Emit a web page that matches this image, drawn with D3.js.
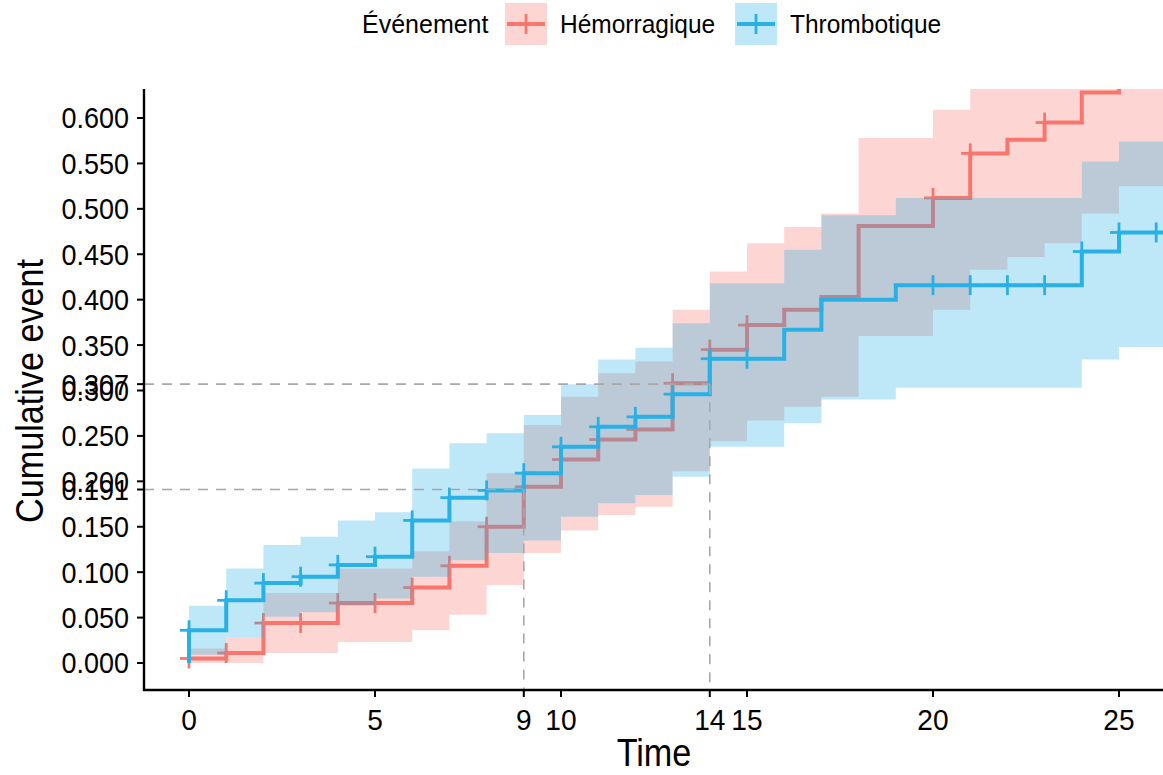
<!DOCTYPE html>
<html><head><meta charset="utf-8">
<script src="https://cdn.jsdelivr.net/npm/d3@7"></script>
<style>body{margin:0;background:#fff}text{font-family:"Liberation Sans",Arial,sans-serif;fill:#000}</style></head>
<body><svg id="c" width="1163" height="775"></svg>
<script>
// ---- data ----
const groups = ["Hémorragique", "Thrombotique"];
const colors = ["#F8766D", "#29B1E6"];

const hemTime = [0,1,2,3,4,5,6,7,8,9,10,11,12,13,14,15,16,17,18,20,21,22,23,24,25];
const hemEst  = [0.005,0.011,0.044,0.044,0.066,0.066,0.083,0.107,0.150,0.194,0.224,0.246,0.257,0.308,0.345,0.372,0.389,0.403,0.481,0.512,0.561,0.576,0.595,0.628,0.670];
const hemLow  = [0.000,0.000,0.011,0.011,0.023,0.023,0.036,0.053,0.086,0.121,0.146,0.163,0.172,0.211,0.244,0.267,0.282,0.293,0.360,0.389,0.433,0.447,0.462,0.495,0.525];
const hemUp   = [0.016,0.028,0.077,0.077,0.104,0.104,0.123,0.156,0.209,0.262,0.293,0.319,0.332,0.389,0.431,0.462,0.480,0.495,0.578,0.609,0.660,0.680,0.700,0.730,0.780];
const hemCensor = [0,1,2,3,4,5,6,7,8,9,10,11,12,13,14,15,20,21,23];
const hemEnd = 27;

const thrTime = [0,1,2,3,4,5,6,7,8,9,10,11,12,13,14,15,16,17,19,20,21,22,23,24,25,26];
const thrEst  = [0.036,0.069,0.088,0.095,0.108,0.117,0.157,0.182,0.190,0.209,0.238,0.260,0.271,0.296,0.335,0.335,0.367,0.400,0.416,0.416,0.416,0.416,0.416,0.453,0.474,0.474];
const thrLow  = [0.009,0.028,0.051,0.056,0.063,0.071,0.095,0.113,0.121,0.135,0.161,0.176,0.185,0.205,0.238,0.238,0.264,0.290,0.303,0.303,0.303,0.303,0.303,0.334,0.348,0.348];
const thrUp   = [0.063,0.104,0.130,0.139,0.157,0.166,0.214,0.242,0.253,0.273,0.307,0.334,0.347,0.374,0.418,0.418,0.455,0.493,0.512,0.512,0.512,0.512,0.512,0.552,0.574,0.574];
const thrCensor = [0,1,2,3,4,5,6,7,8,9,10,11,12,13,14,15,20,21,22,23,24,25,26];
const thrEnd = 27;

const xTicks = [0,5,9,10,14,15,20,25];
const yTicks = [0,0.05,0.1,0.15,0.191,0.2,0.25,0.3,0.307,0.35,0.4,0.45,0.5,0.55,0.6];
const medianLines = [{t:9, y:0.191}, {t:14, y:0.307}];

// ---- layout ----
const svg = d3.select("#c");
const W = 1163;
const x = d3.scaleLinear().domain([0,25]).range([189,1119]);
const y = d3.scaleLinear().domain([0,0.6]).range([663,118]);
const pLeft = 144, pBottom = 690, pTop = 89;

function txt(g, tx, ty, str, size, sx, anchor, rot){
  return g.append("text")
    .attr("transform", `translate(${tx},${ty})` + (rot ? ` rotate(${rot})` : "") + ` scale(${sx},1)`)
    .attr("text-anchor", anchor).attr("dy","0.36em").attr("font-size", size).text(str);
}

svg.append("defs").append("clipPath").attr("id","clip")
  .append("rect").attr("x",pLeft).attr("y",pTop).attr("width",W-pLeft).attr("height",pBottom-pTop);
const plot = svg.append("g").attr("clip-path","url(#clip)");

function rows(t, e, lo, up, end){
  const r = [{t:t[0], e:0, lo:lo[0], up:up[0]}];
  t.forEach((v,i)=>r.push({t:v, e:e[i], lo:lo[i], up:up[i]}));
  const l = r[r.length-1];
  r.push({t:end, e:l.e, lo:l.lo, up:l.up});
  return r;
}
const data = [
  {rows: rows(hemTime,hemEst,hemLow,hemUp,hemEnd), t:hemTime, e:hemEst, censor:hemCensor},
  {rows: rows(thrTime,thrEst,thrLow,thrUp,thrEnd), t:thrTime, e:thrEst, censor:thrCensor}
];

const area = d3.area().curve(d3.curveStepAfter).x(d=>x(d.t)).y0(d=>y(d.lo)).y1(d=>y(d.up));
const line = d3.line().curve(d3.curveStepAfter).x(d=>x(d.t)).y(d=>y(d.e));
function valAt(g, tt){ let v=0; g.t.forEach((s,i)=>{ if(s<=tt) v=g.e[i]; }); return v; }

data.forEach((g,i)=>{
  plot.append("path").datum(g.rows.slice(1)).attr("d",area).attr("fill",colors[i]).attr("fill-opacity",0.3);
  plot.append("path").datum(g.rows).attr("d",line).attr("fill","none").attr("stroke",colors[i]).attr("stroke-width",4);
  const cg = plot.append("g").attr("stroke",colors[i]).attr("stroke-width",2.8);
  g.censor.forEach(ct=>{
    const cx = x(ct), cy = y(valAt(g,ct));
    cg.append("line").attr("x1",cx-9).attr("x2",cx+9).attr("y1",cy).attr("y2",cy);
    cg.append("line").attr("x1",cx).attr("x2",cx).attr("y1",cy-10).attr("y2",cy+10);
  });
});

// median dashed lines
medianLines.forEach(m=>{
  svg.append("line").attr("x1",pLeft).attr("x2",x(m.t)).attr("y1",y(m.y)).attr("y2",y(m.y))
    .attr("stroke","#a8a8a8").attr("stroke-width",1.6).attr("stroke-dasharray","10,8");
  svg.append("line").attr("x1",x(m.t)).attr("x2",x(m.t)).attr("y1",y(m.y)).attr("y2",pBottom)
    .attr("stroke","#a8a8a8").attr("stroke-width",1.6).attr("stroke-dasharray","10,8");
});

// axes
const ax = svg.append("g");
ax.append("line").attr("x1",pLeft).attr("x2",pLeft).attr("y1",pTop).attr("y2",pBottom+1).attr("stroke","#000").attr("stroke-width",2.4);
ax.append("line").attr("x1",pLeft-1).attr("x2",W).attr("y1",pBottom).attr("y2",pBottom).attr("stroke","#000").attr("stroke-width",2.4);
yTicks.forEach(v=>{
  ax.append("line").attr("x1",pLeft-7).attr("x2",pLeft).attr("y1",y(v)).attr("y2",y(v)).attr("stroke","#000").attr("stroke-width",2);
  txt(ax, pLeft-15, y(v), d3.format(".3f")(v), 29, 0.93, "end");
});
xTicks.forEach(v=>{
  ax.append("line").attr("x1",x(v)).attr("x2",x(v)).attr("y1",pBottom).attr("y2",pBottom+7).attr("stroke","#000").attr("stroke-width",2);
  txt(ax, x(v), pBottom+30, v, 29, 0.97, "middle");
});
txt(svg, 654, 752, "Time", 38, 0.9, "middle");
txt(svg, 29, 391, "Cumulative event", 38, 0.9, "middle", -90);

// legend
const lg = svg.append("g");
txt(lg, 362, 24, "Événement", 25, 1.0, "start");
const keyX = [505, 735], labX = [560, 790];
groups.forEach((gname,i)=>{
  lg.append("rect").attr("x",keyX[i]).attr("y",3).attr("width",42).attr("height",42).attr("fill",colors[i]).attr("fill-opacity",0.3);
  lg.append("line").attr("x1",keyX[i]+2).attr("x2",keyX[i]+40).attr("y1",24).attr("y2",24).attr("stroke",colors[i]).attr("stroke-width",4);
  lg.append("line").attr("x1",keyX[i]+21).attr("x2",keyX[i]+21).attr("y1",14).attr("y2",34).attr("stroke",colors[i]).attr("stroke-width",2.8);
  txt(lg, labX[i], 24, gname, 25, 0.98, "start");
});
</script></body></html>
